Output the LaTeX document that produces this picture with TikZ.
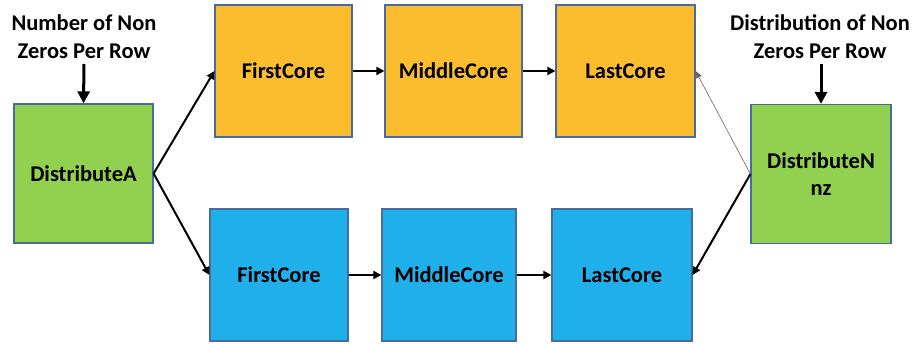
\documentclass[tikz,border=0pt]{standalone}
\usepackage{fontspec}
\setmainfont{Carlito}
\usetikzlibrary{arrows.meta}
\definecolor{boxgreen}{HTML}{92D050}
\definecolor{boxorange}{HTML}{FBBD2E}
\definecolor{boxblue}{HTML}{1FB0EC}
\definecolor{boxline}{HTML}{4A6C9C}
\tikzset{
  box/.style={draw=boxline, line width=1.2pt, inner sep=0pt, align=center,
    font=\fontsize{22.5}{27}\selectfont\bfseries},
  gbox/.style={box, fill=boxgreen},
  obox/.style={box, fill=boxorange},
  bbox/.style={box, fill=boxblue},
  lbl/.style={align=center, font=\fontsize{22.5}{28}\selectfont\bfseries, inner sep=0pt},
  conn/.style={line width=2pt, -{Triangle[length=8pt,width=8pt]}},
  thinconn/.style={line width=0.6pt, draw=black!60, -{Triangle[length=7pt,width=6pt]}},
  inarrow/.style={line width=3pt, -{Triangle[length=12pt,width=12pt]}},
}
\begin{document}
\begin{tikzpicture}[x=1pt,y=-1pt]
\useasboundingbox (0,0) rectangle (917,344);
\node[gbox, minimum width=139, minimum height=139] (DA) at (83.5,173.5) {DistributeA};
\node[obox, minimum width=137, minimum height=132] (oF) at (283.5,71) {FirstCore};
\node[obox, minimum width=137, minimum height=132] (oM) at (453.5,71) {MiddleCore};
\node[obox, minimum width=139, minimum height=132] (oL) at (625.5,71) {LastCore};
\node[bbox, minimum width=138, minimum height=132] (bF) at (279,275) {FirstCore};
\node[bbox, minimum width=134, minimum height=132] (bM) at (449,275) {MiddleCore};
\node[bbox, minimum width=140, minimum height=132] (bL) at (622,275) {LastCore};
\node[gbox, minimum width=140, minimum height=139] (DN) at (821,174) {DistributeN\\nz};
\node[lbl] (tA) at (84,37) {Number of Non\\Zeros Per Row};
\node[lbl] (tN) at (820,37) {Distribution of Non\\Zeros Per Row};
\coordinate (sA) at (84,64);
\coordinate (sN) at (821,64);
\draw[inarrow] (sA) -- (DA.north);
\draw[inarrow] (sN) -- (DN.north);
\draw[conn] (DA.east) -- (oF.west);
\draw[conn] (DA.east) -- (bF.west);
\draw[conn] (oF) -- (oM);
\draw[conn] (oM) -- (oL);
\draw[conn] (bF) -- (bM);
\draw[conn] (bM) -- (bL);
\draw[thinconn] (DN.west) -- (oL.east);
\draw[conn] (DN.west) -- (bL.east);
\end{tikzpicture}
\end{document}
